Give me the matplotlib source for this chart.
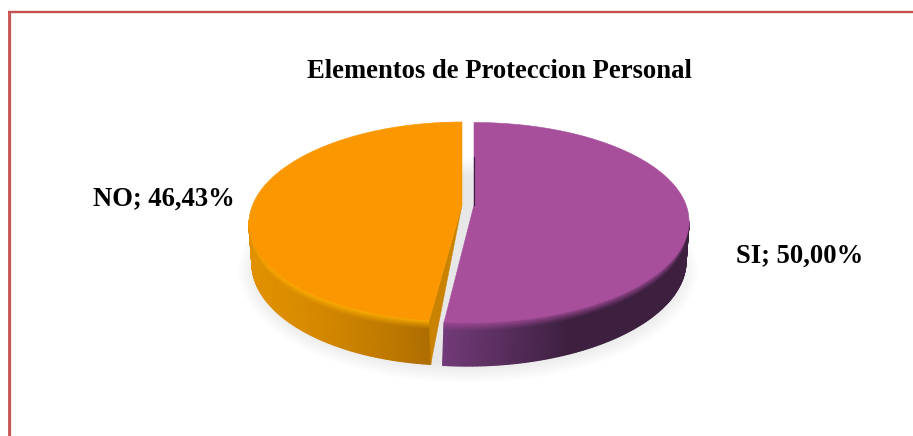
import numpy as np
import matplotlib
matplotlib.use("Agg")
import matplotlib.pyplot as plt
from matplotlib.collections import PolyCollection
from matplotlib.colors import to_rgb
from matplotlib.patches import Polygon, Ellipse

title = "Elementos de Proteccion Personal"
labels = ["SI", "NO"]
values = [50.00, 46.43]
top_colors = ["#a84f9c", "#fb9700"]
rim_colors = ["#a04a95", "#ffb000"]
wall_left = ["#723a78", "#e09000"]
wall_right = ["#3d2040", "#ad6d00"]
face_colors = ["#3a1f3e", "#c98300"]

geom = [
    dict(cx=471.7, cy=222.5, rx=217.3, ry=100, s=2.3, ax=474, ay=205, bx=470, by=262, brx=216, bry=104),
    dict(cx=457.7, cy=221.5, rx=208.7, ry=99.5, s=4.3, ax=462, ay=205, bx=459, by=261, brx=207, bry=104),
]

fig = plt.figure(figsize=(9.13, 4.36), dpi=100)
ax = fig.add_axes([0, 0, 1, 1])
ax.set_xlim(0, 913)
ax.set_ylim(436, 0)
ax.axis("off")

# frame
ax.plot([10.3, 10.3], [436, 13], color="#e39a98", lw=1.0, solid_capstyle="butt", zorder=1)
ax.plot([8.5, 8.5], [436, 11], color="#c5524f", lw=2.0, solid_capstyle="butt", zorder=2)
ax.plot([7.5, 913], [12, 12], color="#c5524f", lw=1.7, solid_capstyle="butt", zorder=2)

# soft floor shadow
for k in range(24):
    f = k / 23
    ax.add_patch(Ellipse((468, 270), 2 * (230 - 22 * f), 2 * (113 - 20 * f),
                         fc="#8a8e92", ec="none", alpha=0.008, zorder=3))


def ell(g, t, bottom=False):
    if bottom:
        return (g["bx"] + g["brx"] * np.cos(t) + g["s"] * np.sin(t),
                g["by"] + g["bry"] * np.sin(-t))
    return (g["cx"] + g["rx"] * np.cos(t) + g["s"] * np.sin(t),
            g["cy"] + g["ry"] * np.sin(-t))


total = sum(values)
start = 90.0
spans = []
for v in values:
    sweep = 360.0 * v / total
    spans.append((start, start - sweep))
    start -= sweep


def mix(a, b, f):
    a, b = np.array(to_rgb(a)), np.array(to_rgb(b))
    return tuple(a + (b - a) * f)


for i in range(2):
    g = geom[i]
    t0, t1 = np.radians(spans[i][0]), np.radians(spans[i][1])
    t = np.linspace(t0, t1, 260)
    vis = t[np.sin(t) <= 0.02][::-1] if i == 0 else t[np.sin(t) <= 0.02]
    quads, cols = [], []
    levels = np.concatenate([np.linspace(0, 0.2, 8), [0.3, 1.0]])
    for a, b in zip(vis[:-1], vis[1:]):
        x_top = ell(g, a)[0]
        if i == 0:
            f = np.clip((x_top - 444) / 125, 0, 1)
        else:
            f = np.clip((x_top - 250) / 180, 0, 1) ** 1.5
        base = mix(wall_left[i], wall_right[i], f)
        xa0, ya0 = ell(g, a)
        xa1, ya1 = ell(g, a, True)
        xb0, yb0 = ell(g, b)
        xb1, yb1 = ell(g, b, True)
        for l0, l1 in zip(levels[:-1], levels[1:]):
            quads.append([(xa0 + (xa1 - xa0) * l0, ya0 + (ya1 - ya0) * l0),
                          (xa0 + (xa1 - xa0) * l1, ya0 + (ya1 - ya0) * l1),
                          (xb0 + (xb1 - xb0) * l1, yb0 + (yb1 - yb0) * l1),
                          (xb0 + (xb1 - xb0) * l0, yb0 + (yb1 - yb0) * l0)])
            m = min(l0 / 0.2, 1.0)
            cols.append(mix(rim_colors[i], base, m ** 0.8))
    ax.add_collection(PolyCollection(quads, facecolors=cols, edgecolors=cols, linewidths=0.9, zorder=5 + i))

    if i == 1:
        e0 = ell(g, t0)
        e1 = ell(g, t0, True)
        ax.add_patch(Polygon([(g["ax"], g["ay"]), e0, e1],
                             closed=True, fc=face_colors[i], ec=face_colors[i], lw=0.3, zorder=7))
    arc_x, arc_y = ell(g, t)
    pts = np.column_stack([np.r_[g["ax"], arc_x], np.r_[g["ay"], arc_y]])
    ax.add_patch(Polygon(pts, closed=True, fc=top_colors[i], ec=top_colors[i], lw=0.4, zorder=8))
    if i == 0:
        ax.plot([g["ax"], g["ax"]], [arc_y[0] + 35, g["ay"]], color=face_colors[0], lw=0.8, zorder=9)

font = dict(family="Liberation Serif", weight="bold", color="black")
ax.text(499, 71, title, ha="center", va="center", fontsize=19.2, zorder=10, **font)
ax.text(163.5, 199, f"{labels[1]}; {values[1]:.2f}%".replace(".", ","), ha="center", va="center",
        fontsize=19.2, zorder=10, **font)
ax.text(799.5, 256, f"{labels[0]}; {values[0]:.2f}%".replace(".", ","), ha="center", va="center",
        fontsize=19.2, zorder=10, **font)

fig.savefig("out.png", dpi=100, facecolor="white")
